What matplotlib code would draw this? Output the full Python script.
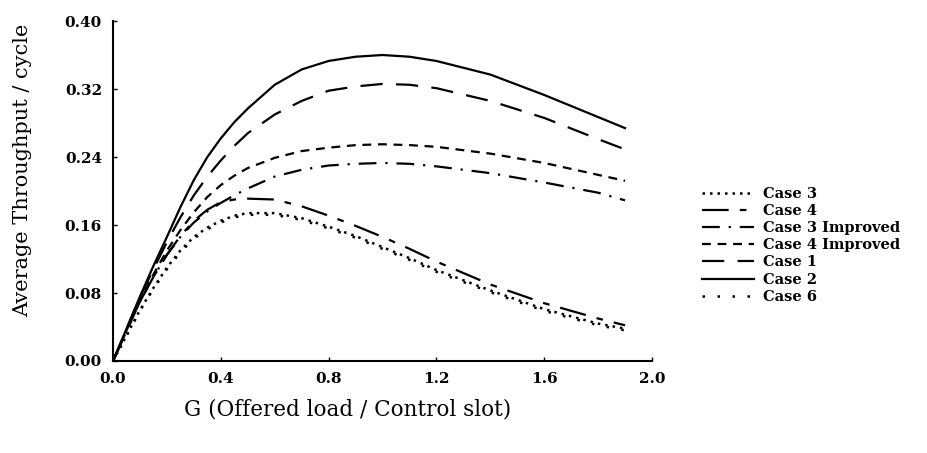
import matplotlib
matplotlib.use("Agg")
import matplotlib.pyplot as plt

G = [0.0, 0.1, 0.15, 0.2, 0.25, 0.3, 0.35, 0.4, 0.45, 0.5, 0.6, 0.7, 0.8, 0.9, 1.0, 1.1, 1.2, 1.4, 1.6, 1.8, 1.9]

case3 = [0.0, 0.060, 0.086, 0.110, 0.130, 0.146, 0.157, 0.165, 0.171, 0.174, 0.174, 0.168, 0.158, 0.147, 0.134, 0.121, 0.107, 0.083, 0.061, 0.044, 0.038]
case4 = [0.0, 0.070, 0.099, 0.125, 0.147, 0.165, 0.178, 0.187, 0.190, 0.191, 0.190, 0.182, 0.171, 0.159, 0.146, 0.132, 0.117, 0.090, 0.068, 0.050, 0.042]
case3_imp = [0.0, 0.070, 0.099, 0.125, 0.146, 0.163, 0.176, 0.186, 0.195, 0.203, 0.217, 0.225, 0.230, 0.232, 0.233, 0.232, 0.229, 0.221, 0.210, 0.198, 0.189]
case4_imp = [0.0, 0.072, 0.102, 0.130, 0.154, 0.175, 0.193, 0.207, 0.218, 0.227, 0.239, 0.247, 0.251, 0.254, 0.255, 0.254, 0.252, 0.244, 0.233, 0.219, 0.212]
case1 = [0.0, 0.075, 0.108, 0.140, 0.169, 0.195, 0.217, 0.236, 0.253, 0.268, 0.290, 0.306, 0.318, 0.323, 0.326, 0.325, 0.321, 0.306, 0.286, 0.261, 0.249]
case2 = [0.0, 0.076, 0.112, 0.146, 0.181, 0.213, 0.240, 0.262, 0.281, 0.297, 0.325, 0.343, 0.353, 0.358, 0.360, 0.358, 0.353, 0.337, 0.313, 0.287, 0.274]
case6 = [0.0, 0.059, 0.085, 0.108, 0.128, 0.144, 0.155, 0.163, 0.169, 0.172, 0.172, 0.166, 0.156, 0.145, 0.132, 0.119, 0.105, 0.081, 0.059, 0.042, 0.036]

labels = ["Case 3", "Case 4", "Case 3 Improved", "Case 4 Improved", "Case 1", "Case 2", "Case 6"]
xticks = [0.0, 0.4, 0.8, 1.2, 1.6, 2.0]
yticks = [0.00, 0.08, 0.16, 0.24, 0.32, 0.40]

styles = [
    dict(linestyle=(0, (1, 2)), linewidth=1.8),
    dict(linestyle=(0, (12, 5, 3, 5)), linewidth=1.6),
    dict(linestyle=(0, (8, 4, 1, 4)), linewidth=1.6),
    dict(linestyle=(0, (4, 3)), linewidth=1.6),
    dict(linestyle=(0, (10, 6)), linewidth=1.6),
    dict(linestyle="-", linewidth=1.6),
    dict(linestyle=(0, (1, 5)), linewidth=1.8),
]
series = [case3, case4, case3_imp, case4_imp, case1, case2, case6]

fig = plt.figure(figsize=(9.28, 4.53), dpi=100)
ax = fig.add_axes([0.1218, 0.2031, 0.5808, 0.7505])

handles = []
for ys, st, lab in zip(series, styles, labels):
    h, = ax.plot(G, ys, color="black", label=lab, **st)
    handles.append(h)

ax.set_xlim(0, 2.0)
ax.set_ylim(0, 0.40)
ax.set_xticks(xticks)
ax.set_xticklabels([f"{v:.1f}" for v in xticks])
ax.set_yticks(yticks)
ax.set_yticklabels([f"{v:.2f}" for v in yticks])
ax.spines["top"].set_visible(False)
ax.spines["right"].set_visible(False)
ax.spines["left"].set_linewidth(1.5)
ax.spines["bottom"].set_linewidth(1.5)
ax.tick_params(direction="in", length=3, width=1, pad=8)
for t in ax.get_xticklabels() + ax.get_yticklabels():
    t.set_fontfamily("DejaVu Serif")
    t.set_fontweight("bold")
    t.set_fontsize(11)

fig.text(0.024, 0.625, "Average Throughput / cycle", fontfamily="DejaVu Serif",
         fontsize=15, rotation=90, ha="center", va="center")
fig.text(0.375, 0.095, "G (Offered load / Control slot)", fontfamily="DejaVu Serif",
         fontsize=15.5, ha="center", va="center")

leg = fig.legend(handles=handles, labels=labels, loc="upper left",
                 bbox_to_anchor=(0.742, 0.617), frameon=False,
                 prop=dict(family="DejaVu Serif", weight="bold", size=10.5),
                 handlelength=3.6, labelspacing=0.22, handletextpad=0.6)

fig.savefig("out.png", dpi=100)
